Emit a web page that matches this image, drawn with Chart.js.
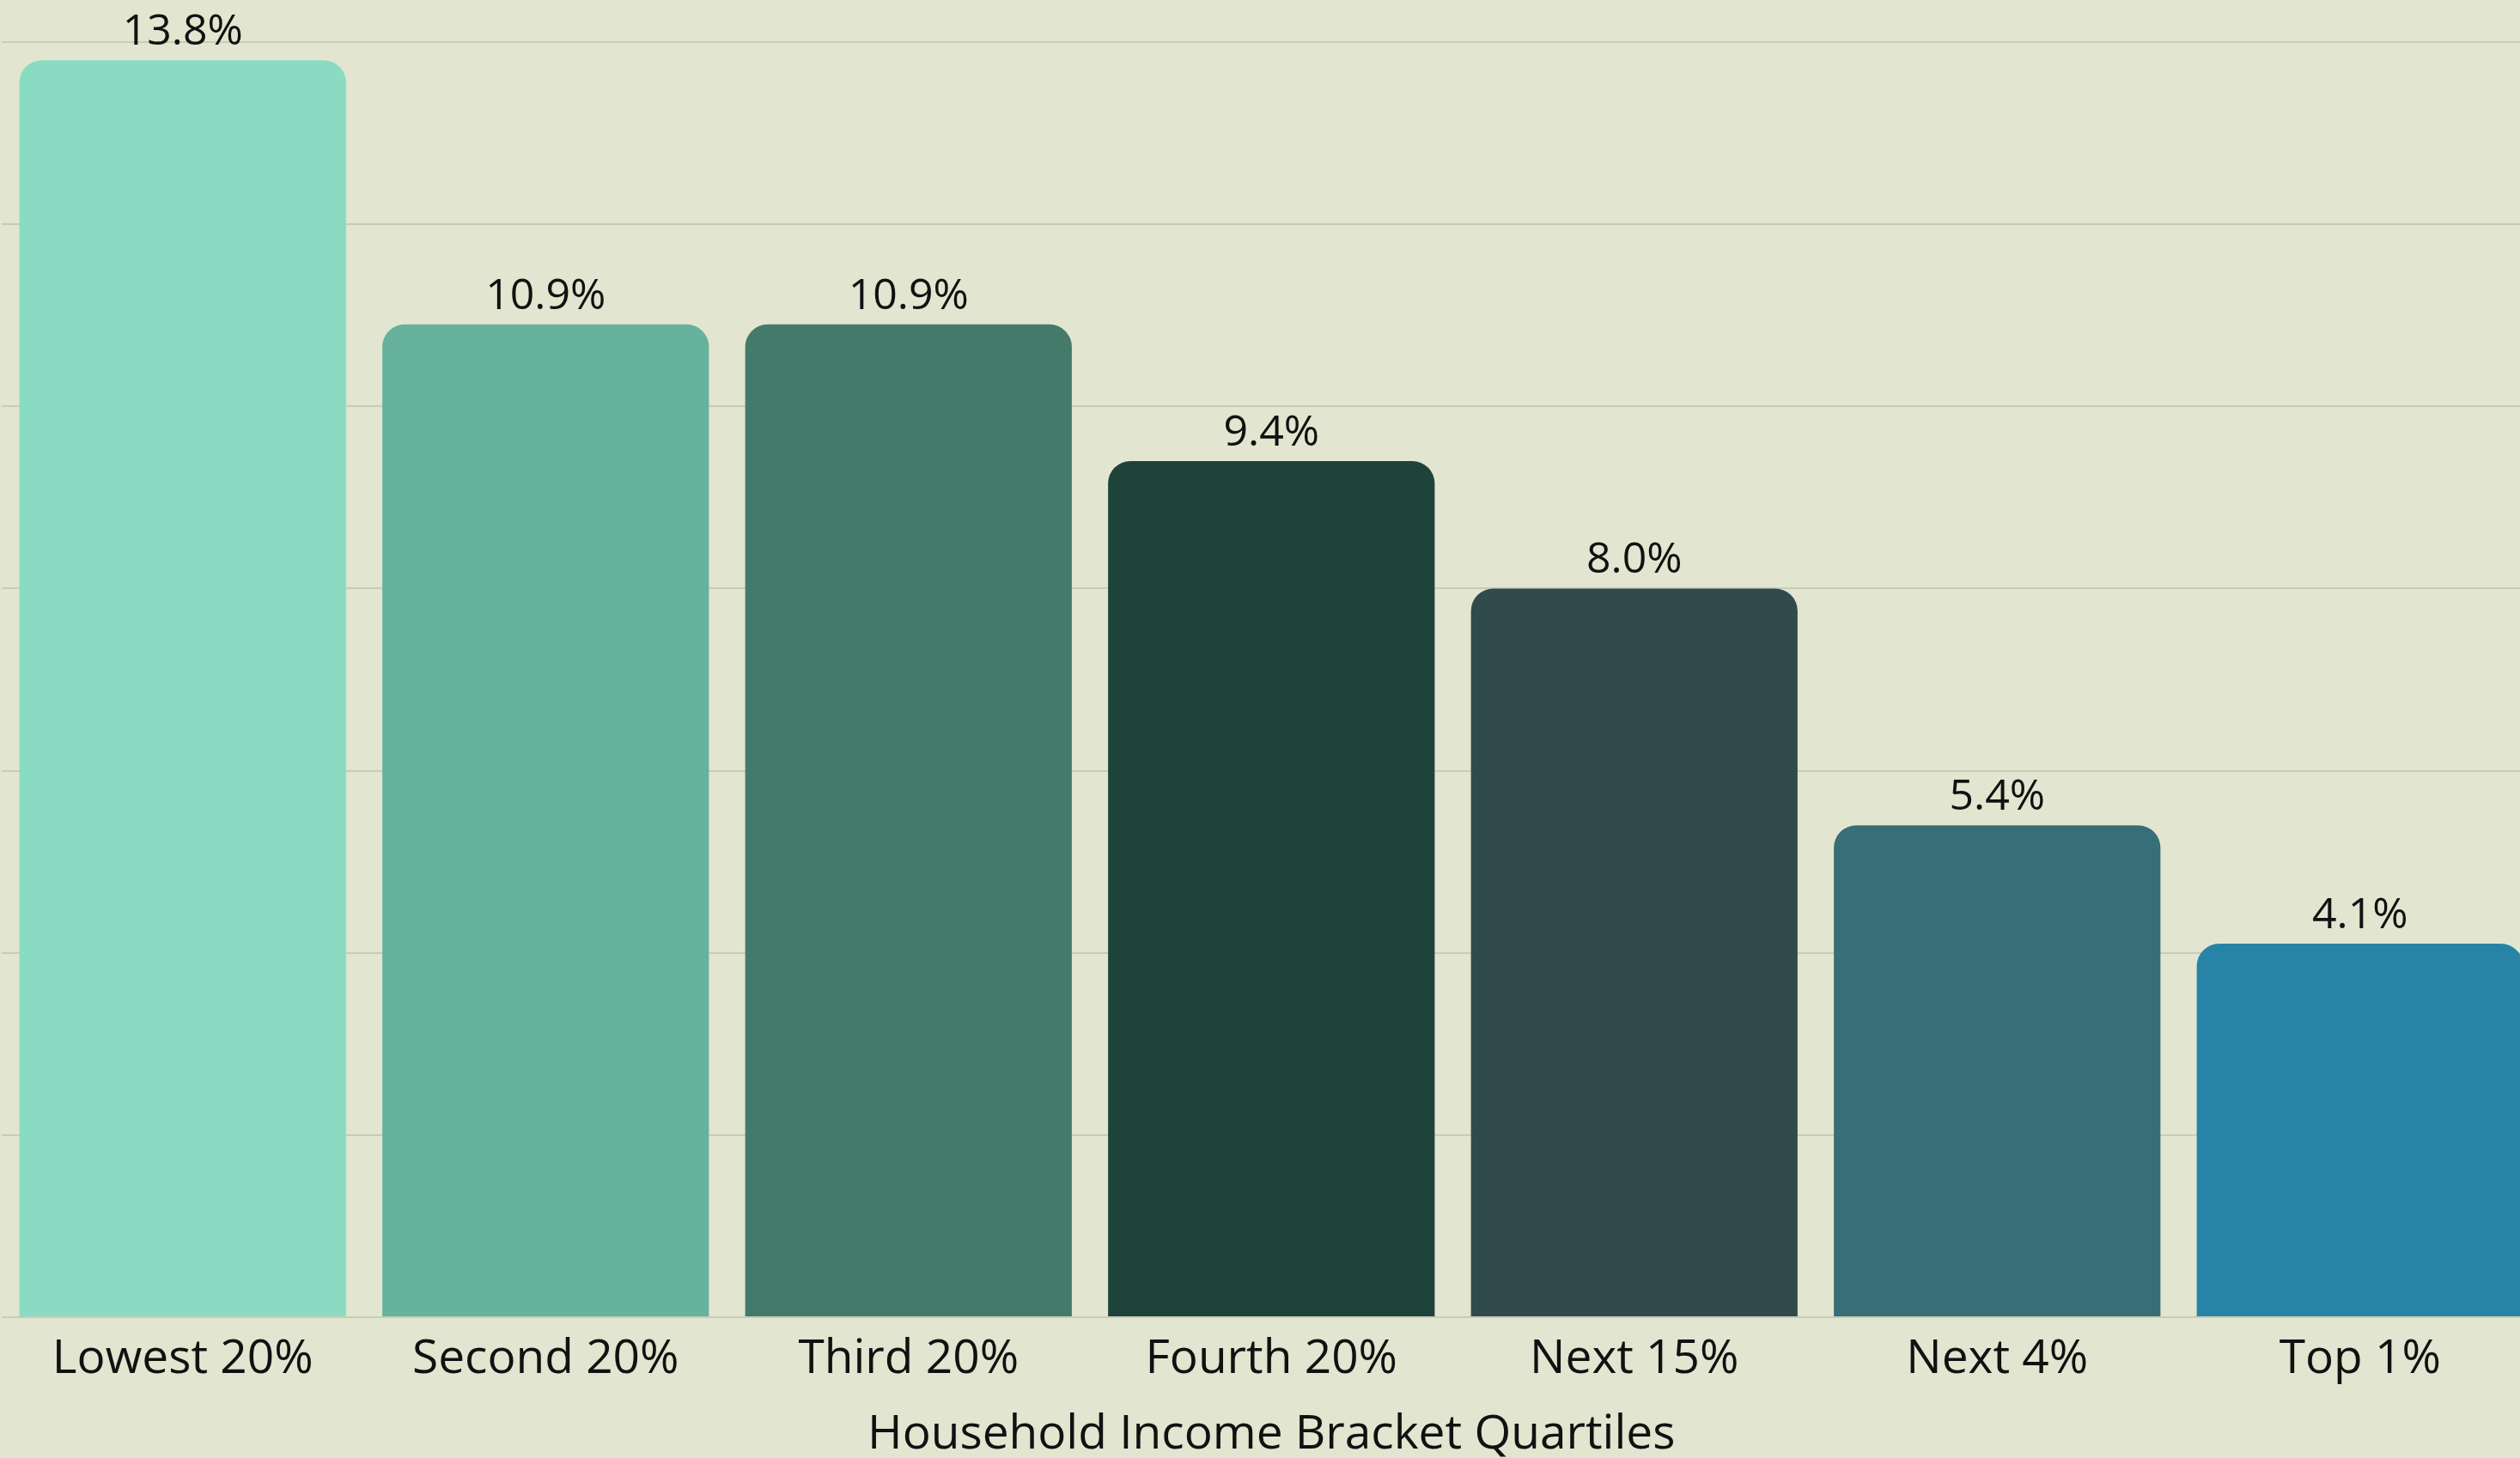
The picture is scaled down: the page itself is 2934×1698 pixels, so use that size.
<!DOCTYPE html>
<html>
<head>
<meta charset="utf-8">
<script src="https://cdn.jsdelivr.net/npm/chart.js@4.4.1/dist/chart.umd.min.js"></script>
<style>
  html, body { margin: 0; padding: 0; overflow: hidden; background: #e2e5cf; }
  #wrap { position: absolute; left: 0; top: 0; width: 2961px; height: 1708px; }
</style>
</head>
<body>
<div id="wrap"><canvas id="chart"></canvas></div>
<script>
// data
const categories = ["Lowest 20%", "Second 20%", "Third 20%", "Fourth 20%", "Next 15%", "Next 4%", "Top 1%"];
const shares = [13.8, 10.9, 10.9, 9.4, 8.0, 5.4, 4.1];
const barColors = ["#89dcc1", "#66b29c", "#437a6a", "#1e433a", "#314b4d", "#376e77", "#2784a6"];
const axisTitle = "Household Income Bracket Quartiles";

const FONT = "'Open Sans', 'DejaVu Sans', sans-serif";
const INK = "#111111";

// value labels above each bar
const valueLabels = {
  id: "valueLabels",
  afterDatasetsDraw(chart) {
    const ctx = chart.ctx;
    const meta = chart.getDatasetMeta(0);
    ctx.save();
    ctx.font = "50px " + FONT;
    ctx.fillStyle = INK;
    ctx.textAlign = "center";
    ctx.textBaseline = "alphabetic";
    meta.data.forEach((bar, i) => {
      ctx.fillText(shares[i].toFixed(1) + "%", bar.x, bar.y - 18);
    });
    ctx.restore();
  }
};

new Chart(document.getElementById("chart"), {
  type: "bar",
  data: {
    labels: categories,
    datasets: [{
      data: shares,
      backgroundColor: barColors,
      borderRadius: 26,
      borderSkipped: "bottom",
      barPercentage: 0.9,
      categoryPercentage: 1.0
    }]
  },
  options: {
    responsive: true,
    maintainAspectRatio: false,
    animation: false,
    layout: { padding: { top: 49, left: 1.5, right: 2, bottom: 0 } },
    plugins: { legend: { display: false }, tooltip: { enabled: false } },
    scales: {
      x: {
        grid: { display: false, drawTicks: false },
        border: { display: false },
        ticks: { color: INK, font: { family: FONT, size: 55 }, padding: 16, maxRotation: 0, autoSkip: false },
        title: { display: true, text: axisTitle, color: INK, font: { family: FONT, size: 55 }, padding: { top: 0, bottom: 4 } },
        afterFit(scale) { scale.height = 174; }
      },
      y: {
        min: 0,
        max: 14,
        ticks: { display: false, stepSize: 2 },
        border: { display: false },
        grid: { color: "#c9ccb5", lineWidth: 2, drawTicks: false }
      }
    }
  },
  plugins: [valueLabels]
});
</script>
</body>
</html>
